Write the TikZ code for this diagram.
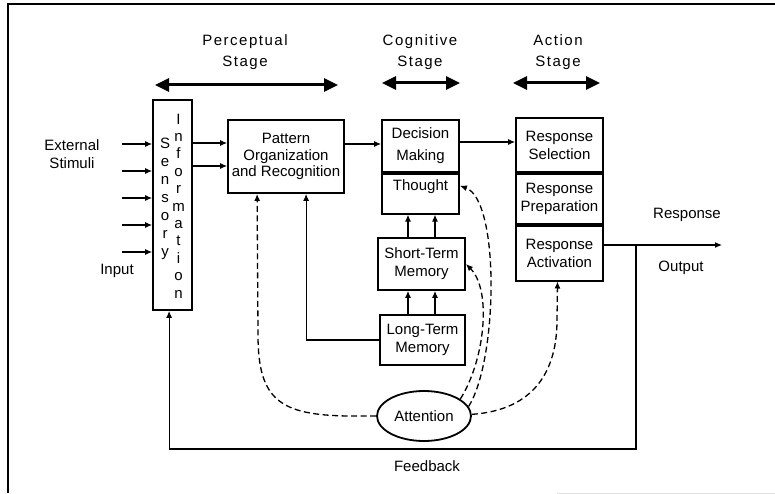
\documentclass[tikz,border=0pt]{standalone}
\usepackage{fontspec}
\setmainfont{Liberation Sans}
\usetikzlibrary{shapes.geometric,arrows.meta}
\newcommand{\stagefont}{\fontsize{15}{21}\selectfont\addfontfeature{LetterSpace=10}}

\tikzset{
  box/.style={draw, line width=1.8pt, align=center, inner sep=1pt},
  arr/.style={line width=1.1pt, -{Latex[length=7pt,width=6pt]}},
  dasharr/.style={arr, line width=1.3pt, dash pattern=on 6pt off 3.5pt},
  stagearr/.style={line width=3pt, {Triangle[length=14pt,width=13pt]}-{Triangle[length=14pt,width=13pt]}},
  vletters/.style={align=center, inner sep=0pt}
}

\begin{document}
\begin{tikzpicture}[x=1pt, y=-1pt, font=\fontsize{15}{18}\selectfont]
\useasboundingbox (0,0) rectangle (775,494);
\draw[line width=1.4pt] (775,4) -- (8,4) -- (8,493);
\draw[gray!25, line width=0.8pt] (557,493) -- (775,493);

% stages
\node[font=\stagefont, align=center] (perceptual) at (245,52) {Perceptual\\Stage};
\node[font=\stagefont, align=center] (cognitive) at (420,52) {Cognitive\\Stage};
\node[font=\stagefont, align=center] (action) at (558,52) {Action\\Stage};
\draw[stagearr] (155,85) -- (338,85);
\draw[stagearr] (382,83) -- (460,83);
\draw[stagearr] (513,83) -- (600,83);

% sensory store
\node[box, minimum width=39, minimum height=210] (sensebox) at (172.5,205) {};
\node[vletters, font=\fontsize{15}{18}\selectfont] (sensory) at (165,199) {S\\e\\n\\s\\o\\r\\y};
\node[vletters, font=\fontsize{15}{17.4}\selectfont] (information) at (178.5,206) {I\\n\\f\\o\\r\\m\\a\\t\\i\\o\\n};

\node[box, minimum width=116, minimum height=73, font=\fontsize{15}{16.5}\selectfont] (pattern) at (286,156.5) {Pattern\\Organization\\and Recognition};

\node[box, minimum width=77, minimum height=52, font=\fontsize{15}{22}\selectfont] (decision) at (420.5,146) {Decision\\Making};
\node[box, minimum width=77, minimum height=40, anchor=north] (thought) at (decision.south) {Thought\\\mbox{}};
\node[box, minimum width=87, minimum height=52] (stm) at (421.5,264) {Short-Term\\Memory};
\node[box, minimum width=85, minimum height=50] (ltm) at (422.5,340) {Long-Term\\Memory};

\node[box, minimum width=87, minimum height=54] (selection) at (559.5,145) {Response\\Selection};
\node[box, minimum width=87, minimum height=50, anchor=north] (preparation) at (selection.south) {Response\\Preparation};
\node[box, minimum width=87, minimum height=55, anchor=north] (activation) at (preparation.south) {Response\\Activation};

\node[draw, ellipse, line width=1.8pt, minimum width=94, minimum height=50, inner sep=0pt] (attention) at (424,416) {Attention};

\node[align=center] (stimuli) at (72,154) {External\\Stimuli};
\node (input) at (117,271) {Input};
\node (response) at (687,215) {Response};
\node (output) at (681,268) {Output};
\node (feedback) at (427,466) {Feedback};

\coordinate (outend) at (722,245);
\coordinate (fbtap) at (636,245);

\foreach \y [count=\i] in {144,171,198,225,252} {
  \coordinate (stim\i) at (122,\y);
  \draw[arr] (stim\i) -- (stim\i -| sensebox.west);
}
\foreach \y in {143,166}
  \draw[arr] (sensebox.east |- 0,\y) -- (pattern.west |- 0,\y);
\draw[arr] (pattern.east |- 0,144) -- (decision.west |- 0,144);
\draw[arr] (decision.east |- 0,142) -- (selection.west |- 0,142);
\foreach \x in {408,435} {
  \draw[arr] (ltm.north -| \x,0) -- (stm.south -| \x,0);
  \draw[arr] (stm.north -| \x,0) -- (thought.south -| \x,0);
}
\draw[arr] (ltm.west) -| ([xshift=79pt]pattern.south west);
\draw[arr] (activation.east |- outend) -- (outend);
\draw[arr] (fbtap) -- ++(0,204) -| ([xshift=17pt]sensebox.south west);

% attention links
\draw[dasharr] (attention.west) -- ++(-28,0) .. controls (280,415) and (258,400) .. (258,335) -- ([xshift=30pt]pattern.south west);
\draw[dasharr] (attention.25) .. controls (485,360) and (492,290) .. (stm.east);
\draw[dasharr] (attention.12) .. controls (498,360) and (500,200) .. ([yshift=8pt]thought.east);
\draw[dasharr] (attention.2) .. controls (535,410) and (557,370) .. (557,320) -- ([xshift=-2pt]activation.south);
\end{tikzpicture}
\end{document}
